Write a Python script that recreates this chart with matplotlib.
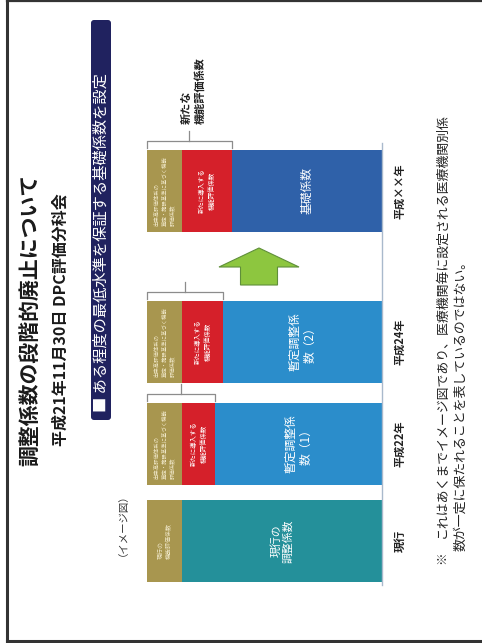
import matplotlib
matplotlib.use("Agg")
import matplotlib.pyplot as plt
import matplotlib.transforms as mtransforms
from matplotlib.patches import FancyBboxPatch, Polygon
from matplotlib.lines import Line2D

plt.rcParams['font.family'] = ['Noto Sans CJK JP', 'DejaVu Sans']

# ---- data -------------------------------------------------------------
periods = ["現行", "平成22年", "平成24年", "平成××年"]
base_values = [85, 71, 67.5, 64]          # 調整係数 / 暫定調整係数 / 基礎係数
new_func_values = [0, 14, 17.5, 21]       # 新たに導入する機能評価係数
current_func_values = [15, 15, 15, 15]    # 出来高体系に基づく機能評価係数
base_labels = ["現行の\n調整係数", "暫定調整係\n数（1）", "暫定調整係\n数（2）", "基礎係数"]
new_func_label = "新たに導入する\n機能評価係数"
current_func_labels = ["現行の\n機能評価係数",
                       "出来高評価体系の\n算定・施設基準に基づく機能\n評価係数",
                       "出来高評価体系の\n算定・施設基準に基づく機能\n評価係数",
                       "出来高評価体系の\n算定・施設基準に基づく機能\n評価係数"]

# ---- layout -----------------------------------------------------------
W, H = 482, 643
bar_pos = [0.0, 0.97, 1.99, 3.50]
bar_h = 0.82
base_colors = ["#24909a", "#2b8dcb", "#2b8dcb", "#2f61a9"]
red = "#d5202a"
gold = "#a8964f"

fig = plt.figure(figsize=(W / 100, H / 100), dpi=100)
fig.patch.set_facecolor("white")
# page pixel coordinates (origin top-left)
PIX = mtransforms.Affine2D().scale(1 / W, -1 / H).translate(0, 1) + fig.transFigure

ax = fig.add_axes([0, 0, 1, 1])
ax.axis("off")
# value axis runs right-to-left, zero at the baseline
ax.set_xlim(382 / 2.35, (382 - W) / 2.35)
ax.set_ylim((541 - H) / 100, 541 / 100)

# stacked bars
lefts_red = base_values
lefts_gold = [b + n for b, n in zip(base_values, new_func_values)]
ax.barh(bar_pos, base_values, height=bar_h, color=base_colors, linewidth=0)
ax.barh(bar_pos, new_func_values, left=lefts_red, height=bar_h, color=red, linewidth=0)
ax.barh(bar_pos, current_func_values, left=lefts_gold, height=bar_h, color=gold, linewidth=0)

# baseline
ax.plot([0, 0], [(541 - 585) / 100, (541 - 143) / 100], color="#a9b9cc", lw=1.0)

# segment labels
for i, y in enumerate(bar_pos):
    ax.text(base_values[i] / 2, y, base_labels[i], rotation=90, ha="center", va="center",
            color="white", fontsize=8.5 if i else 7.8, linespacing=1.2, multialignment="center")
    if new_func_values[i] > 0:
        ax.text(base_values[i] + new_func_values[i] / 2, y, new_func_label, rotation=90,
                ha="center", va="center", color="white", fontsize=4.6, linespacing=1.3,
                multialignment="center")
    ax.text(lefts_gold[i] + current_func_values[i] / 2, y, current_func_labels[i], rotation=90,
            ha="center", va="center", color="#efe7c8", fontsize=3.9 if i else 4.3,
            linespacing=1.5, multialignment="left")

# brackets over the function-based parts
for i, y in enumerate(bar_pos):
    if new_func_values[i] == 0:
        continue
    x0 = base_values[i]
    x1 = lefts_gold[i] + current_func_values[i]
    top = y + bar_h / 2
    yl = top + 0.09
    ax.plot([x0, x0, x1, x1], [top + 0.025, yl, yl, top + 0.025], color="#8c8c8c", lw=0.9)
    xm = (x0 + x1) / 2
    ax.plot([xm, xm], [yl, yl + 0.1], color="#8c8c8c", lw=0.9)

# category labels under the bars
for i, y in enumerate(bar_pos):
    ax.text(382 / 2.35 - 400 / 2.35, y, periods[i], rotation=90, ha="center", va="center",
            fontsize=8, fontweight="bold", color="#222222")

# upward arrow between 平成24年 and 平成××年
cx = 259
arrow = Polygon([(cx, 248), (cx + 40, 267), (cx + 18.5, 267), (cx + 18.5, 285),
                 (cx - 18.5, 285), (cx - 18.5, 267), (cx - 40, 267)],
                closed=True, facecolor="#8dc63f", edgecolor="#5f8f3a", lw=0.8,
                transform=PIX)
fig.patches.append(arrow)

# page frame
for xs, ys, lw in [([7, 7], [1, 641], 2.2), ([7, W], [1, 1], 1.6), ([7, W], [641, 641], 2.2)]:
    fig.lines.append(Line2D(xs, ys, color="#333333", lw=lw, transform=PIX))

# titles
fig.text(30, 320, "調整係数の段階的廃止について", transform=PIX, rotation=90,
         ha="center", va="center", fontsize=15, fontweight="bold", color="#1a1a1a")
fig.text(60, 320, "平成21年11月30日 DPC評価分科会", transform=PIX, rotation=90,
         ha="center", va="center", fontsize=11.5, fontweight="bold", color="#1a1a1a")

# headline box
box = FancyBboxPatch((91, 20), 20, 400, boxstyle="round,pad=0,rounding_size=3",
                     facecolor="#20225f", edgecolor="none", transform=PIX)
fig.patches.append(box)
fig.text(101, 412, "■ ある程度の最低水準を保証する基礎係数を設定", transform=PIX, rotation=90,
         ha="center", va="bottom", fontsize=11, color="white")

fig.text(118, 520, "（イメージ図）", transform=PIX, rotation=90, ha="center", va="center",
         fontsize=7.5, color="#333333")

fig.text(193, 124, "新たな\n機能評価係数", transform=PIX, rotation=90, ha="center", va="bottom",
         multialignment="left", fontsize=8, fontweight="bold", color="#222222", linespacing=1.05)

# footnote
fig.text(442, 558, "※", transform=PIX, rotation=90, ha="center", va="center",
         fontsize=9, color="#222222")
fig.text(442, 538, "これはあくまでイメージ図であり、医療機関毎に設定される医療機関別係",
         transform=PIX, rotation=90, ha="center", va="bottom", fontsize=9.3, color="#222222")
fig.text(461, 551, "数が一定に保たれることを表しているのではない。",
         transform=PIX, rotation=90, ha="center", va="bottom", fontsize=9.3, color="#222222")

fig.savefig("out.png", dpi=100)
